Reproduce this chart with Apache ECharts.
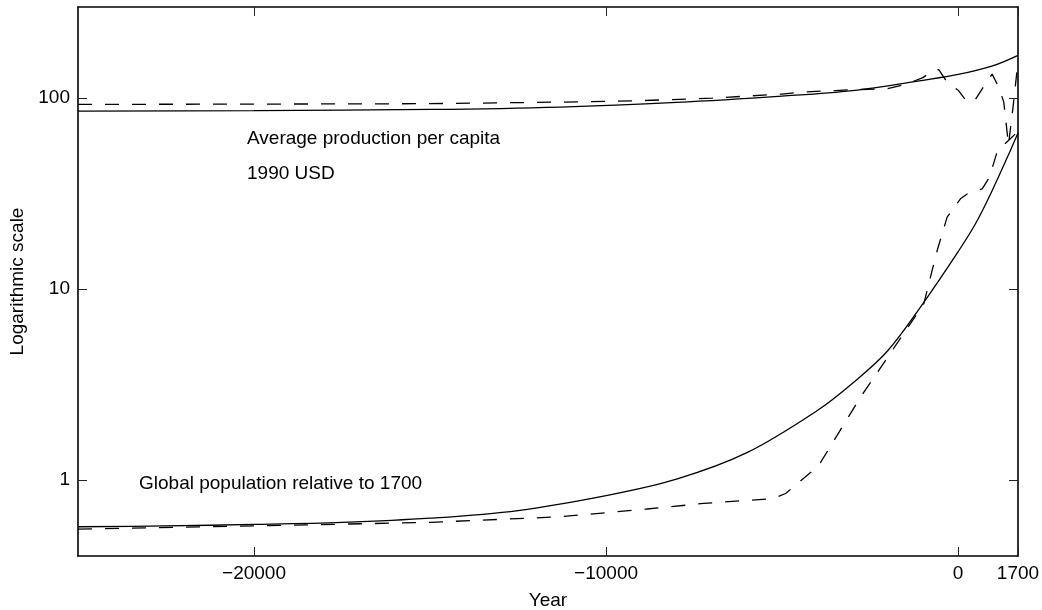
<!DOCTYPE html>
<html>
<head>
<meta charset="utf-8">
<script src="https://cdn.jsdelivr.net/npm/echarts@6/dist/echarts.min.js"></script>
<style>
html,body{margin:0;padding:0;background:#fff;}
#chart{width:1042px;height:610px;}
</style>
</head>
<body>
<div id="chart"></div>
<script>
// ---- data ----
const xTicks = [-20000, -10000, 0, 1700];
const yTicks = [1, 10, 100];

const prodModelYears = [-25000, -20000, -15000, -11300, -8000, -5000, -3000, -1000, 0, 1000, 1700];
const prodModelValues = [85.5, 86.0, 87.2, 89.8, 95, 102.5, 109.5, 124, 133, 148, 167.5];

const prodDataYears = [-25000, -20000, -15000, -11300, -9000, -7000, -5000, -4482, -3500, -3000, -2300, -2000, -1500, -1000, -700, -550, -313, 0, 256, 492, 776, 966, 1154, 1296, 1430, 1560, 1700];
const prodDataValues = [92.7, 93, 93.5, 95.3, 97, 100, 105, 107.5, 109.5, 110.7, 111.5, 112, 118, 128, 140, 141, 121, 110, 95.3, 98.5, 119, 133.5, 114, 95.3, 57, 90, 155];

const popModelYears = [-25000, -22500, -20000, -17500, -15000, -12500, -10000, -8000, -6000, -4000, -3000, -2000, -1000, 0, 500, 1000, 1500, 1700];
const popModelValues = [0.569, 0.575, 0.585, 0.60, 0.631, 0.692, 0.828, 1.01, 1.39, 2.31, 3.21, 4.75, 8.4, 15.7, 22.1, 33.8, 54, 65.6];

const popDataYears = [-25000, -20000, -15000, -11300, -8840, -7231, -5241, -4900, -3962, -2777, -2000, -977, -597, -313, 65, 256, 500, 682, 870, 1000, 1115, 1300, 1430, 1700];
const popDataValues = [0.553, 0.575, 0.60, 0.642, 0.705, 0.754, 0.80, 0.85, 1.19, 2.71, 4.4, 8.37, 15.9, 23.8, 29.7, 31.5, 32.5, 33.5, 38, 45, 53, 57, 60, 67];

const xName = 'Year';
const yName = 'Logarithmic scale';
const labelProd1 = 'Average production per capita';
const labelProd2 = '1990 USD';
const labelPop = 'Global population relative to 1700';

// ---- chart ----
const FONT = '"Liberation Sans", Arial, Helvetica, sans-serif';
const FS = 19;
const pairs = (xs, ys) => xs.map((x, i) => [x, ys[i]]);
const fmtX = v => (v < 0 ? '\u2212' + Math.abs(v) : String(v));

const axisLine = { show: true, onZero: false, lineStyle: { color: '#000', width: 1.6 } };
const tickStyle = { color: '#222', width: 1 };

const chart = echarts.init(document.getElementById('chart'), null, { renderer: 'canvas' });
chart.setOption({
  animation: false,
  backgroundColor: '#fff',
  textStyle: { fontFamily: FONT },
  grid: { left: 78, right: 24, top: 7, bottom: 54, containLabel: false, outerBoundsMode: 'none' },
  xAxis: [
    {
      type: 'value', min: -25000, max: 1700, position: 'bottom',
      name: xName, nameLocation: 'middle', nameGap: 35,
      nameTextStyle: { fontSize: FS, color: '#000', fontFamily: FONT },
      axisLine: axisLine,
      axisTick: { show: true, inside: true, length: 9, customValues: xTicks, lineStyle: tickStyle },
      axisLabel: { show: true, customValues: xTicks, formatter: fmtX, fontSize: FS, color: '#000', margin: 8, fontFamily: FONT },
      splitLine: { show: false }
    },
    {
      type: 'value', min: -25000, max: 1700, position: 'top',
      axisLine: axisLine,
      axisTick: { show: true, inside: true, length: 9, customValues: xTicks, lineStyle: tickStyle },
      axisLabel: { show: false },
      splitLine: { show: false }
    }
  ],
  yAxis: [
    {
      type: 'log', logBase: 10, min: 0.4, max: 300, position: 'left',
      name: yName, nameLocation: 'middle', nameGap: 48, nameRotate: 90,
      nameTextStyle: { fontSize: FS, color: '#000', fontFamily: FONT },
      axisLine: axisLine,
      axisTick: { show: true, inside: true, length: 9, customValues: yTicks, lineStyle: tickStyle },
      axisLabel: { show: true, customValues: yTicks, formatter: v => String(Math.round(v)), fontSize: FS, color: '#000', margin: 8, fontFamily: FONT },
      minorTick: { show: false },
      splitLine: { show: false }
    },
    {
      type: 'log', logBase: 10, min: 0.4, max: 300, position: 'right',
      axisLine: axisLine,
      axisTick: { show: true, inside: true, length: 9, customValues: yTicks, lineStyle: tickStyle },
      axisLabel: { show: false },
      splitLine: { show: false }
    }
  ],
  series: [
    {
      type: 'line', name: 'prodModel', xAxisIndex: 0, yAxisIndex: 0,
      data: pairs(prodModelYears, prodModelValues), smooth: 0.35, showSymbol: false,
      lineStyle: { color: '#000', width: 1.3, type: 'solid' }
    },
    {
      type: 'line', name: 'prodData', xAxisIndex: 0, yAxisIndex: 0,
      data: pairs(prodDataYears, prodDataValues), smooth: false, showSymbol: false,
      lineStyle: { color: '#000', width: 1.3, type: [14, 13] }
    },
    {
      type: 'line', name: 'popModel', xAxisIndex: 0, yAxisIndex: 0,
      data: pairs(popModelYears, popModelValues), smooth: 0.35, showSymbol: false,
      lineStyle: { color: '#000', width: 1.3, type: 'solid' }
    },
    {
      type: 'line', name: 'popData', xAxisIndex: 0, yAxisIndex: 0,
      data: pairs(popDataYears, popDataValues), smooth: false, showSymbol: false,
      lineStyle: { color: '#000', width: 1.3, type: [14, 13] }
    }
  ],
  graphic: [
    { type: 'text', left: 247, top: 129, style: { text: labelProd1, font: FS + 'px ' + FONT, fill: '#000' } },
    { type: 'text', left: 247, top: 164, style: { text: labelProd2, font: FS + 'px ' + FONT, fill: '#000' } },
    { type: 'text', left: 139, top: 474, style: { text: labelPop, font: FS + 'px ' + FONT, fill: '#000' } }
  ]
});
</script>
</body>
</html>
